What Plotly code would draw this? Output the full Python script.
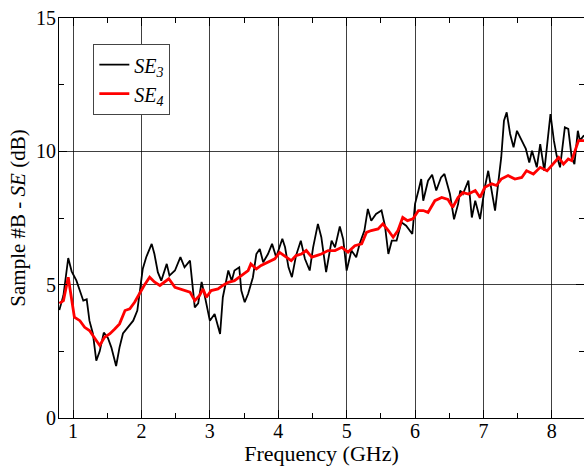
import plotly.graph_objects as go

# SE3 (black)
freq3 = [0.80, 0.86, 0.93, 0.98, 1.05, 1.10, 1.15, 1.20, 1.24, 1.29, 1.34, 1.39, 1.45, 1.51, 1.56,
         1.63, 1.68, 1.73, 1.80, 1.88, 1.94, 1.99, 2.02, 2.07, 2.15, 2.19, 2.24, 2.29, 2.37, 2.41,
         2.49, 2.57, 2.63, 2.71, 2.74, 2.78, 2.83, 2.88, 2.93, 3.00, 3.07, 3.15, 3.19, 3.27, 3.32,
         3.36, 3.43, 3.46, 3.51, 3.56, 3.63, 3.68, 3.73, 3.78, 3.85, 3.91, 3.97, 4.06, 4.10, 4.15,
         4.20, 4.26, 4.33, 4.39, 4.46, 4.51, 4.58, 4.63, 4.70, 4.78, 4.83, 4.90, 4.95, 5.00, 5.07,
         5.14, 5.19, 5.26, 5.31, 5.36, 5.43, 5.51, 5.56, 5.61, 5.66, 5.73, 5.80, 5.87, 5.96, 6.00,
         6.05, 6.09, 6.12, 6.19, 6.25, 6.31, 6.38, 6.43, 6.51, 6.57, 6.63, 6.66, 6.70, 6.78, 6.83,
         6.88, 6.95, 7.02, 7.07, 7.12, 7.17, 7.22, 7.26, 7.30, 7.34, 7.39, 7.44, 7.49, 7.56, 7.62,
         7.67, 7.71, 7.78, 7.83, 7.89, 7.95, 7.98, 8.03, 8.07, 8.12, 8.19, 8.24, 8.29, 8.33, 8.38,
         8.41, 8.47]
se3 = [4.05, 4.60, 6.00, 5.50, 5.15, 4.80, 4.40, 4.45, 3.65, 3.17, 2.15, 2.50, 3.20, 3.00, 2.65,
       1.95, 2.65, 3.17, 3.40, 3.65, 4.03, 5.04, 5.60, 6.03, 6.53, 6.15, 5.47, 5.15, 5.78, 5.34,
       5.53, 6.03, 5.65, 5.90, 5.03, 4.15, 4.30, 5.10, 4.53, 3.65, 3.90, 3.15, 4.53, 5.53, 5.15,
       5.53, 5.65, 4.78, 4.34, 4.66, 5.28, 6.15, 6.34, 5.84, 6.15, 6.53, 6.03, 6.72, 6.40, 5.65,
       5.28, 6.09, 6.65, 5.97, 5.53, 6.40, 7.28, 6.78, 5.47, 6.65, 6.40, 7.18, 6.70, 5.53, 6.28,
       6.03, 6.53, 7.03, 7.84, 7.40, 7.65, 7.78, 7.21, 6.15, 6.65, 6.65, 7.34, 7.21, 6.90, 8.03,
       8.53, 8.96, 8.15, 8.90, 9.12, 8.53, 9.02, 9.15, 8.40, 7.45, 8.03, 8.53, 8.40, 8.90, 7.52,
       8.15, 7.46, 8.65, 9.27, 8.53, 7.78, 8.90, 9.77, 11.15, 11.46, 10.65, 10.15, 10.77, 10.40, 10.09,
       9.58, 10.02, 9.40, 10.27, 9.27, 10.65, 11.40, 10.40, 9.84, 9.40, 10.90, 10.84, 9.77, 9.52, 10.77,
       10.40, 10.60]

# SE4 (red)
freq4 = [0.80, 0.86, 0.93, 0.98, 1.02, 1.10, 1.17, 1.24, 1.32, 1.39, 1.46, 1.54, 1.61, 1.68, 1.76,
         1.83, 1.90, 1.97, 2.04, 2.12, 2.19, 2.27, 2.34, 2.40, 2.49, 2.56, 2.63, 2.71, 2.78, 2.85,
         2.90, 2.95, 3.02, 3.12, 3.19, 3.27, 3.36, 3.46, 3.56, 3.60, 3.68, 3.75, 3.85, 3.95, 4.02,
         4.09, 4.19, 4.26, 4.34, 4.41, 4.49, 4.56, 4.63, 4.73, 4.83, 4.93, 5.02, 5.12, 5.22, 5.29,
         5.36, 5.46, 5.53, 5.61, 5.68, 5.75, 5.82, 5.89, 5.97, 6.05, 6.12, 6.19, 6.29, 6.39, 6.48,
         6.55, 6.63, 6.70, 6.78, 6.88, 6.95, 7.02, 7.12, 7.19, 7.26, 7.36, 7.46, 7.56, 7.63, 7.73,
         7.83, 7.93, 8.00, 8.10, 8.17, 8.24, 8.29, 8.34, 8.39, 8.47]
se4 = [4.30, 4.40, 5.28, 4.40, 3.78, 3.65, 3.40, 3.28, 2.97, 2.72, 3.03, 3.16, 3.34, 3.53, 4.03,
       4.09, 4.34, 4.66, 4.97, 5.28, 5.10, 4.97, 5.10, 5.22, 4.90, 4.84, 4.78, 4.72, 4.40, 4.60,
       4.84, 4.53, 4.78, 4.84, 4.97, 5.09, 5.15, 5.34, 5.53, 5.78, 5.59, 5.72, 5.84, 5.97, 6.21,
       6.09, 5.90, 6.09, 6.15, 6.28, 6.03, 6.09, 6.15, 6.28, 6.28, 6.40, 6.22, 6.46, 6.53, 6.96,
       7.03, 7.09, 7.28, 7.03, 6.78, 7.03, 7.52, 7.40, 7.47, 7.78, 7.78, 7.71, 8.15, 8.27, 8.20,
       7.90, 8.27, 8.45, 8.40, 8.53, 8.27, 8.65, 8.78, 8.72, 8.96, 9.09, 8.96, 9.02, 9.27, 9.15,
       9.40, 9.27, 9.46, 9.77, 9.52, 9.71, 9.65, 10.02, 10.40, 10.40]

x_ticks = [1, 2, 3, 4, 5, 6, 7, 8]
y_ticks = [0, 5, 10, 15]

FONT = "serif"

fig = go.Figure()
fig.add_trace(go.Scatter(x=freq3, y=se3, mode="lines", name="<i>SE<sub>3</sub></i>",
                         line=dict(color="black", width=1.8)))
fig.add_trace(go.Scatter(x=freq4, y=se4, mode="lines", name="<i>SE<sub>4</sub></i>",
                         line=dict(color="red", width=2.8)))

axis_common = dict(
    showline=True, linecolor="black", linewidth=1.2, mirror="ticks",
    ticks="inside", ticklen=8, tickcolor="black",
    showgrid=True, gridcolor="rgba(0,0,0,0.75)", gridwidth=1,
    zeroline=False, automargin=False,
    tickfont=dict(family=FONT, size=20, color="black"),
)

fig.update_xaxes(**axis_common, range=[0.795, 8.47], tickvals=x_ticks, ticklabelstandoff=-5,
                 minor=dict(ticks="inside", ticklen=5, dtick=0.5, tick0=0.5, tickcolor="black", showgrid=False),
                 title=dict(text="Frequency (GHz)", font=dict(family=FONT, size=22, color="black"), standoff=0))
fig.update_yaxes(**axis_common, range=[0, 15], tickvals=y_ticks, ticklabelstandoff=-2,
                 minor=dict(ticks="inside", ticklen=5, dtick=2.5, tick0=0, tickcolor="black", showgrid=False),
                 title=dict(text="Sample #B - <i>SE</i> (dB)", font=dict(family=FONT, size=21, color="black"), standoff=4))

fig.update_layout(
    width=584, height=466,
    margin=dict(l=59, r=0, t=18, b=48),
    plot_bgcolor="white", paper_bgcolor="white",
    font=dict(family=FONT, color="black"),
    legend=dict(x=0.065, y=0.935, xanchor="left", yanchor="top",
                bordercolor="#444", borderwidth=1.2, bgcolor="white",
                font=dict(family=FONT, size=20, color="black"),
                tracegroupgap=0, itemwidth=30),
    showlegend=True,
)

fig.write_html("out.html", config={"displayModeBar": False},
               post_script="document.body.style.margin='0';document.body.style.padding='0';")
